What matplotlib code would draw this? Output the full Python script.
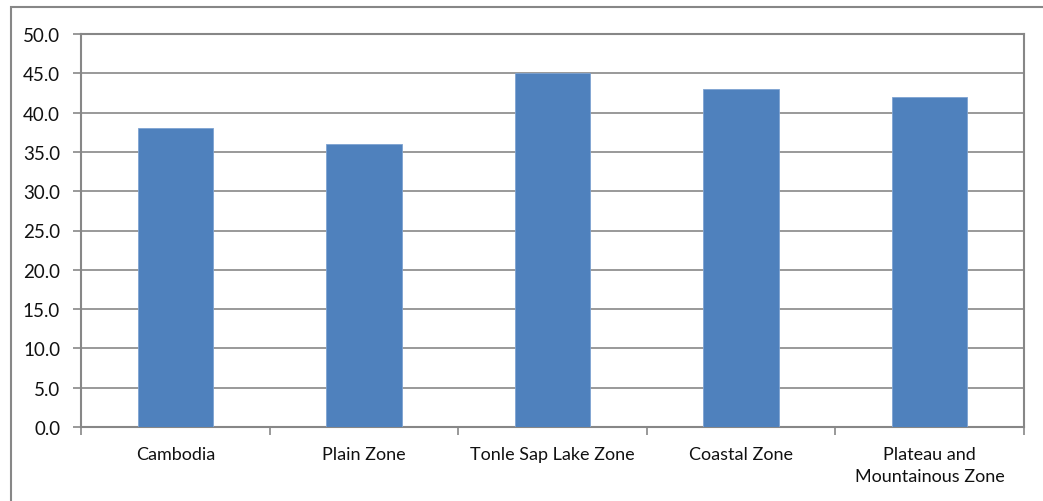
import matplotlib
matplotlib.use("Agg")
from matplotlib import pyplot as plt
from matplotlib.patches import Rectangle
import numpy as np

zones = ["Cambodia", "Plain Zone", "Tonle Sap Lake Zone", "Coastal Zone", "Plateau and\nMountainous Zone"]
values = [38.0, 36.0, 45.0, 43.0, 42.0]
yticks = np.arange(0, 50.1, 5)

grey = "#878787"
plt.rcParams['font.family'] = ['Lato', 'DejaVu Sans']

fig = plt.figure(figsize=(10.43, 5.02), dpi=100)

# outer chart border (runs off the bottom and right of the picture)
fig.patches.append(Rectangle((11 / 1043, -0.1), 1.2, 1.1 - 8 / 502, transform=fig.transFigure,
                             fill=False, edgecolor=grey, linewidth=1.5))

ax = fig.add_axes([81 / 1043, 74 / 502, (1024 - 81) / 1043, (428 - 35) / 502])
x = np.arange(len(zones))
ax.bar(x, values, width=0.4, color="#4F81BD", edgecolor="#7EA3D2", linewidth=0.6, zorder=3)

ax.set_xlim(-0.5, len(zones) - 0.5)
ax.set_ylim(0, 50)
ax.set_yticks(yticks)
ax.set_yticklabels([f"{v:.1f}" for v in yticks], fontsize=13.5, color="#111111")
ax.set_xticks(x)
ax.set_xticklabels(zones, fontsize=13, linespacing=1.45, color="#111111")
ax.set_xticks(np.arange(-0.5, len(zones), 1), minor=True)
ax.tick_params(axis="x", which="major", length=0, pad=14)
ax.tick_params(axis="x", which="minor", length=6, color=grey, width=1.2)
ax.tick_params(axis="y", length=6, color=grey, width=1.2, pad=9)

ax.grid(axis="y", color=grey, linewidth=1.2, zorder=0)
ax.set_axisbelow(True)
for s in ax.spines.values():
    s.set_color(grey)
    s.set_linewidth(1.5)

fig.savefig("out.png", dpi=100)
